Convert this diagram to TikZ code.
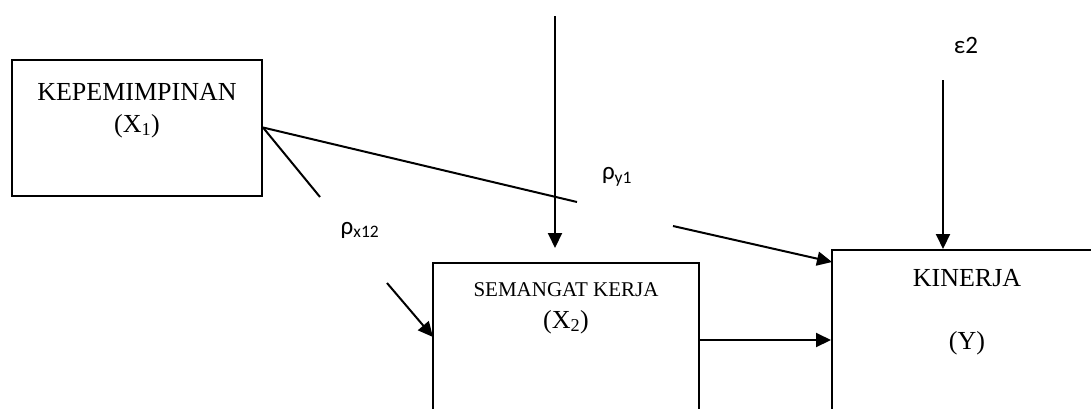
\documentclass[tikz,border=0pt]{standalone}
\usepackage{fontspec}
\setmainfont{Liberation Serif}
\newfontfamily\lblfont{Carlito}
\usetikzlibrary{arrows.meta}
\begin{document}
\begin{tikzpicture}[x=1pt,y=-1pt,
  box/.style={draw, line width=2pt, inner sep=0pt},
  boxtext/.style={inner sep=0pt, font=\fontsize{26}{30}\selectfont},
  smalltext/.style={inner sep=0pt, font=\fontsize{21}{25}\selectfont},
  lbl/.style={inner sep=0pt, font=\lblfont\fontsize{25}{30}\selectfont},
  link/.style={line width=2pt},
  arrowlink/.style={line width=2pt, -{Triangle[length=15pt,width=14pt]}}]
\useasboundingbox (0,0) rectangle (1091,408);
\clip (0,0) rectangle (1091,408);

% variable boxes
\node[box, minimum width=250pt, minimum height=136pt] (x1) at (137,127.5) {};
\node[box, minimum width=266pt, minimum height=177pt] (x2) at (566,351.5) {};
\node[box, minimum width=278pt, minimum height=190pt] (y) at (971,345) {};

% box captions
\node[boxtext] (x1name) at (137,92) {KEPEMIMPINAN};
\node[boxtext] (x1sym) at (137,126) {(X\textsubscript{1})};
\node[smalltext] (x2name) at (566,290) {SEMANGAT KERJA};
\node[boxtext] (x2sym) at (566,322) {(X\textsubscript{2})};
\node[boxtext] (yname) at (967,278) {KINERJA};
\node[boxtext] (ysym) at (967,343) {(Y)};

% path coefficients and residual
\node[lbl] (py1) at (617,177) {ρ\textsubscript{y1}};
\node[lbl] (px12) at (360,230) {ρ\textsubscript{x12}};
\node[lbl] (eps) at (966,45) {ε2};

% free ends of the broken connectors
\coordinate (a1) at (577,202);
\coordinate (a2) at (673,226);
\coordinate (ytip) at (832,262);
\coordinate (b1) at (320,197);
\coordinate (b2) at (387,283);
\coordinate (x2tip) at (433,337);
\coordinate (e1top) at (555,16);
\coordinate (e1tip) at (555,248);
\coordinate (e2top) at (943,80);

% X1 -> Y
\draw[link] (x1.east) -- (a1);
\draw[arrowlink] (a2) -- (ytip);
% X1 -> X2
\draw[link] (x1.east) -- (b1);
\draw[arrowlink] (b2) -- (x2tip);
% residual into X2
\draw[arrowlink] (e1top) -- (e1tip);
% residual into Y
\draw[arrowlink] (e2top) -- (e2top |- y.north);
% X2 -> Y
\draw[arrowlink] (x2.east |- 0,340) -- (y.west |- 0,340);
\end{tikzpicture}
\end{document}
